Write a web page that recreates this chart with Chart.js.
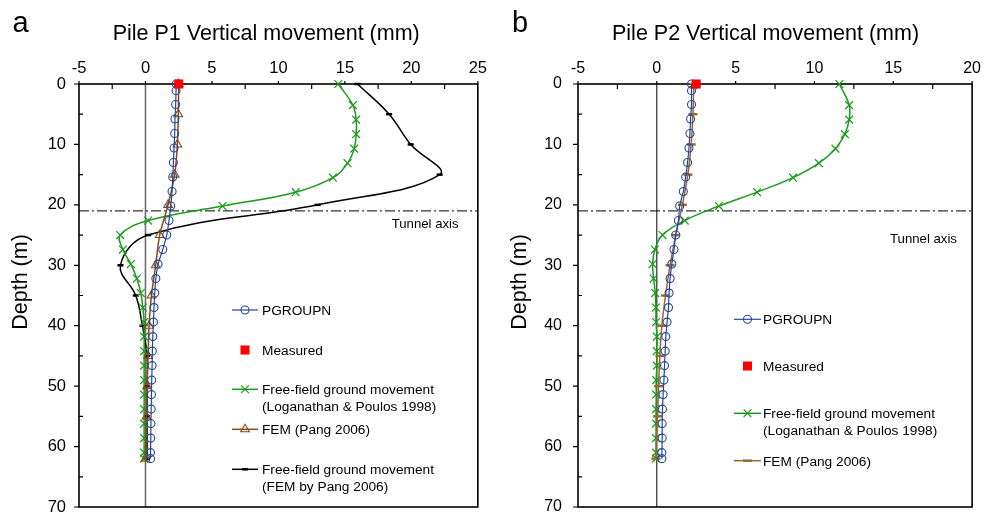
<!DOCTYPE html>
<html>
<head>
<meta charset="utf-8">
<title>Pile vertical movement</title>
<script src="https://cdn.jsdelivr.net/npm/chart.js@4.4.0/dist/chart.umd.min.js"></script>
<style>
  body { margin: 0; background: #fff; }
  canvas { position: absolute; top: 0; }
  #chartP1 { left: 0; }
  #chartP2 { left: 493px; }
</style>
</head>
<body>
<canvas id="chartP1" width="493" height="516"></canvas>
<canvas id="chartP2" width="494" height="516"></canvas>
<script>
// depths of the output points along the piles (m)
const pgroupnDepths = [0, 1.1, 3.4, 5.8, 8.2, 10.6, 13, 15.4, 17.8, 20.2, 22.6, 25, 27.4, 29.8,
    32.2, 34.6, 37, 39.4, 41.8, 44.2, 46.6, 49, 51.4, 53.8, 56.2, 58.6, 61, 62];
const loganathanDepths = [0, 3.5, 5.9, 8.3, 10.7, 13.1, 15.5, 17.9, 20.2, 22.6, 25, 27.4, 29.8,
    32.2, 34.6, 37, 39.4, 41.8, 44.2, 46.6, 49, 51.4, 53.8, 56.2, 58.6, 61, 62];
const femDepths = [0, 5, 10, 15, 20, 25, 30, 35, 40, 45, 50, 55, 62];
const measuredDepths = [0];
const tunnelDepth = 21;

// pile P1 vertical movement (mm)
const p1Pgroupn = [2.32, 2.3, 2.27, 2.22, 2.2, 2.15, 2.1, 2.05, 2.0, 1.9, 1.77, 1.6, 1.3, 0.95,
    0.78, 0.7, 0.64, 0.6, 0.55, 0.52, 0.5, 0.47, 0.45, 0.43, 0.41, 0.4, 0.38, 0.38];
const p1Measured = [2.5];
const p1Loganathan = [14.5, 15.6, 15.85, 15.85, 15.7, 15.2, 14.1, 11.3, 5.8, 0.2, -1.9, -1.7, -1.1,
    -0.65, -0.35, -0.2, -0.1, -0.1, -0.1, -0.1, -0.1, -0.1, -0.1, -0.1, -0.1, -0.1, -0.1];
const p1Fem = [2.5, 2.47, 2.4, 2.2, 1.7, 1.07, 0.77, 0.45, 0.27, 0.2, 0.12, 0.07, 0.0];
const p1FemFreeField = [15.95, 18.33, 19.95, 22.13, 12.95, 0.2, -1.88, -0.73, -0.23, 0.12, 0.12, 0.12, 0.12];

// pile P2 vertical movement (mm)
const p2Pgroupn = [2.2, 2.2, 2.2, 2.14, 2.1, 2.04, 1.95, 1.83, 1.68, 1.45, 1.37, 1.2, 1.09, 0.95,
    0.84, 0.78, 0.74, 0.65, 0.57, 0.53, 0.49, 0.45, 0.4, 0.36, 0.34, 0.34, 0.32, 0.32];
const p2Measured = [2.5];
const p2Loganathan = [11.58, 12.2, 12.2, 11.93, 11.33, 10.28, 8.64, 6.36, 3.94, 1.77, 0.36, -0.12, -0.27,
    -0.2, -0.1, -0.06, -0.05, 0, 0, 0, -0.04, -0.04, -0.05, -0.05, -0.05, -0.05, -0.05];
const p2Fem = [2.35, 2.29, 2.18, 1.97, 1.62, 1.2, 0.84, 0.55, 0.32, 0.19, 0.11, 0.05, -0.06];

// axis ranges
const p1Range = [-5, 25];
const p2Range = [-5, 20];
const depthRange = [0, 70];

const labelPgroupn = 'PGROUPN';
const labelMeasured = 'Measured';
const labelLoganathan = ['Free-field ground movement', '(Loganathan & Poulos 1998)'];
const labelFem = 'FEM (Pang 2006)';
const labelFemFreeField = ['Free-field ground movement', '(FEM by Pang 2006)'];

const FONT = '"Liberation Sans", Arial, Helvetica, sans-serif';

function toPoints(depths, values) {
    return depths.map((d, i) => ({ x: values[i], y: d }));
}

function series(label, depths, values, style) {
    return Object.assign({
        label: label,
        data: toPoints(depths, values),
        fill: false,
        clip: false,
        pointBackgroundColor: 'rgba(0,0,0,0)',
        pointHoverRadius: 0
    }, style);
}

// axis frame, inside ticks, zero line and tunnel axis
const frameLines = {
    id: 'frameLines',
    beforeDatasetsDraw(chart, args, o) {
        const { ctx, chartArea: a, scales: { x, y } } = chart;
        ctx.save();

        const x0 = x.getPixelForValue(0);
        ctx.strokeStyle = o.zeroColor;
        ctx.lineWidth = o.zeroWidth;
        ctx.beginPath();
        ctx.moveTo(x0, a.top);
        ctx.lineTo(x0, a.bottom);
        ctx.stroke();

        const yt = y.getPixelForValue(tunnelDepth);
        ctx.strokeStyle = '#000';
        ctx.lineWidth = 1;
        ctx.setLineDash([10, 3, 2, 3]);
        ctx.beginPath();
        ctx.moveTo(a.left, yt);
        ctx.lineTo(a.right, yt);
        ctx.stroke();
        ctx.setLineDash([]);

        ctx.fillStyle = '#000';
        ctx.font = '13.2px ' + FONT;
        ctx.textBaseline = 'alphabetic';
        ctx.fillText('Tunnel axis', o.tunnelLabel[0], o.tunnelLabel[1]);

        ctx.lineWidth = 1.6;
        ctx.strokeRect(a.left, a.top, a.right - a.left, a.bottom - a.top);

        ctx.lineWidth = 1.2;
        ctx.beginPath();
        for (let v = x.min; v <= x.max + 1e-6; v += 2.5) {
            const px = x.getPixelForValue(v);
            const major = Math.abs(v % 5) < 1e-6;
            ctx.moveTo(px, a.top);
            ctx.lineTo(px, major ? a.top - 3 : a.top + 5);
        }
        for (let v = y.min; v <= y.max; v += 5) {
            const py = y.getPixelForValue(v);
            ctx.moveTo(a.left, py);
            ctx.lineTo(v % 10 === 0 ? a.left - 5 : a.left + 4, py);
        }
        ctx.stroke();
        ctx.restore();
    }
};

// panel letter, titles and the legend
const panelText = {
    id: 'panelText',
    afterDraw(chart, args, o) {
        const { ctx } = chart;
        ctx.save();
        ctx.fillStyle = '#000';
        ctx.textBaseline = 'alphabetic';

        ctx.font = '29px ' + FONT;
        ctx.textAlign = 'left';
        ctx.fillText(o.letter, o.letterPos[0], o.letterPos[1]);

        ctx.font = '21.5px ' + FONT;
        ctx.fillText(o.title, o.titlePos[0], o.titlePos[1]);

        ctx.save();
        ctx.translate(o.yTitlePos[0], o.yTitlePos[1]);
        ctx.rotate(-Math.PI / 2);
        ctx.textAlign = 'center';
        ctx.fillText('Depth (m)', 0, 0);
        ctx.restore();

        const lg = o.legend;
        ctx.font = '13.7px ' + FONT;
        lg.rows.forEach(row => {
            const ds = chart.data.datasets[row.index];
            const lines = [].concat(ds.label);
            const cx = (lg.x0 + lg.x1) / 2;
            if (ds.showLine !== false) {
                ctx.strokeStyle = ds.borderColor;
                ctx.lineWidth = ds.borderWidth;
                ctx.beginPath();
                ctx.moveTo(lg.x0, row.y);
                ctx.lineTo(lg.x1, row.y);
                ctx.stroke();
            }
            ctx.strokeStyle = ds.pointBorderColor;
            ctx.fillStyle = ds.pointBackgroundColor;
            ctx.lineWidth = ds.pointBorderWidth;
            Chart.helpers.drawPoint(ctx, {
                pointStyle: ds.pointStyle,
                radius: ds.pointRadius,
                borderWidth: ds.pointBorderWidth,
                rotation: 0
            }, cx, row.y);
            ctx.fillStyle = '#000';
            lines.forEach((t, k) => ctx.fillText(t, lg.textX, row.y + 5 + k * 16.5));
        });
        ctx.restore();
    }
};

const pgroupnStyle = {
    borderColor: '#26479a', borderWidth: 1.2, tension: 0.2,
    pointStyle: 'circle', pointRadius: 4, pointBorderColor: '#26479a', pointBorderWidth: 1.1,
    order: 1
};
const measuredStyle = {
    borderColor: '#ff0000', showLine: false,
    pointStyle: 'rect', pointRadius: 6.4, pointBorderColor: '#ff0000', pointBorderWidth: 0,
    pointBackgroundColor: '#ff0000', order: 0
};
const loganathanStyle = {
    borderColor: '#1c9a1c', borderWidth: 1.5, tension: 0.4,
    pointStyle: 'crossRot', pointRadius: 5.5, pointBorderColor: '#1c9a1c', pointBorderWidth: 1.2,
    order: 3
};
const femFreeFieldStyle = {
    borderColor: '#000000', borderWidth: 1.5, tension: 0.4,
    pointStyle: 'line', pointRadius: 3, pointBorderColor: '#000000', pointBorderWidth: 2.5,
    order: 4
};

function makeChart(canvasId, range, tickSize, tickPad, yWidth, rightPad, datasets, text, frame) {
    const tickFont = { family: FONT, size: tickSize };
    return new Chart(document.getElementById(canvasId), {
        type: 'line',
        data: { datasets: datasets },
        options: {
            responsive: false,
            animation: false,
            events: [],
            layout: { padding: { left: 0, right: rightPad, top: 0, bottom: 9 } },
            plugins: {
                legend: { display: false },
                tooltip: { enabled: false },
                frameLines: frame,
                panelText: text
            },
            scales: {
                x: {
                    type: 'linear', position: 'top', min: range[0], max: range[1],
                    grid: { display: false, drawTicks: false },
                    border: { display: false },
                    ticks: { stepSize: 5, padding: 6, font: tickFont, color: '#000', maxRotation: 0, autoSkip: false },
                    afterFit: s => { s.height = 84; }
                },
                y: {
                    type: 'linear', reverse: true, min: depthRange[0], max: depthRange[1],
                    grid: { display: false, drawTicks: false },
                    border: { display: false },
                    ticks: { stepSize: 10, padding: tickPad, font: tickFont, color: '#000', autoSkip: false },
                    // fixed axis width; labels never need extra room above or below the plot
                    afterFit: s => { s.width = yWidth; s.paddingTop = 0; s.paddingBottom = 0; }
                }
            }
        },
        plugins: [frameLines, panelText]
    });
}

makeChart('chartP1', p1Range, 16.5, 13, 79, 14, [
    series(labelMeasured, measuredDepths, p1Measured, measuredStyle),
    series(labelPgroupn, pgroupnDepths, p1Pgroupn, pgroupnStyle),
    series(labelLoganathan, loganathanDepths, p1Loganathan, loganathanStyle),
    series(labelFem, femDepths, p1Fem, {
        borderColor: '#8a4b16', borderWidth: 1.5, tension: 0.3,
        pointStyle: 'triangle', pointRadius: 5, pointBorderColor: '#8a4b16', pointBorderWidth: 1.1,
        order: 2
    }),
    series(labelFemFreeField, femDepths, p1FemFreeField, femFreeFieldStyle)
], {
    letter: 'a', letterPos: [12.5, 31.5],
    title: 'Pile P1 Vertical movement (mm)', titlePos: [112.7, 40],
    yTitlePos: [27, 282],
    legend: {
        x0: 232, x1: 258, textX: 262,
        rows: [{ index: 1, y: 310 }, { index: 0, y: 350 }, { index: 2, y: 389.3 },
               { index: 3, y: 429.3 }, { index: 4, y: 469.3 }]
    }
}, { zeroColor: '#707070', zeroWidth: 1.6, tunnelLabel: [391.7, 228.3] });

makeChart('chartP2', p2Range, 16, 16, 85, 11, [
    series(labelMeasured, measuredDepths, p2Measured, measuredStyle),
    series(labelPgroupn, pgroupnDepths, p2Pgroupn, pgroupnStyle),
    series(labelLoganathan, loganathanDepths, p2Loganathan, loganathanStyle),
    series(labelFem, femDepths, p2Fem, {
        borderColor: '#9c6632', borderWidth: 1.5, tension: 0.3,
        pointStyle: 'line', pointRadius: 4.5, pointBorderColor: '#9c6632', pointBorderWidth: 2.5,
        order: 2
    })
], {
    letter: 'b', letterPos: [19, 31.5],
    title: 'Pile P2 Vertical movement (mm)', titlePos: [119, 40],
    yTitlePos: [33, 282],
    legend: {
        x0: 241, x1: 268, textX: 270,
        rows: [{ index: 1, y: 319.3 }, { index: 0, y: 366 }, { index: 2, y: 413.3 },
               { index: 3, y: 460.7 }]
    }
}, { zeroColor: '#000000', zeroWidth: 1, tunnelLabel: [397, 242.7] });
</script>
</body>
</html>
